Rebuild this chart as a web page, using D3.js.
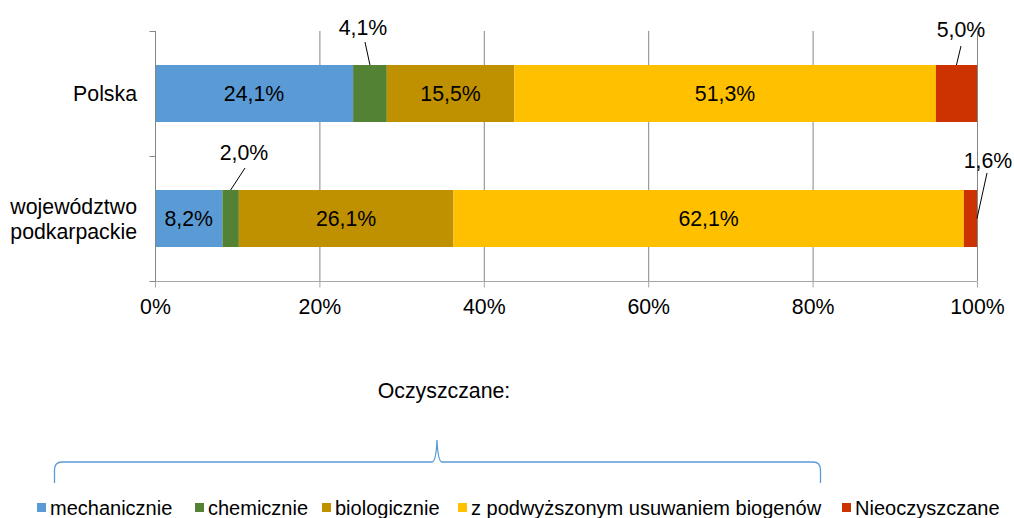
<!DOCTYPE html>
<meta charset="utf-8">
<style>
  body { margin: 0; background: #fff; }
  text { font-family: "Liberation Sans", Arial, sans-serif; fill: #000; }
  .grid line { stroke: #868686; stroke-width: 1; }
</style>
<body>
<script src="https://d3js.org/d3.v7.min.js"></script>
<script>

// data
var categories = ["Polska", "województwo podkarpackie"];
var seriesNames = ["mechanicznie", "chemicznie", "biologicznie",
                   "z podwyższonym usuwaniem biogenów", "Nieoczyszczane"];
var polskaValues = [24.1, 4.1, 15.5, 51.3, 5.0];
var podkarpackieValues = [8.2, 2.0, 26.1, 62.1, 1.6];
var xTicks = [0, 20, 40, 60, 80, 100];
var colors = ["#5B9BD5", "#548235", "#BF9000", "#FFC000", "#CC3300"];
var bracketLabel = "Oczyszczane:";

var W = 1014, H = 518;
var FS = "21.3px";
var svg = d3.select("body").append("svg")
    .attr("width", W)
    .attr("height", H);

var x = d3.scaleLinear().domain([0, 100]).range([155, 977]);
var y = d3.scaleBand().domain(categories).range([31, 281])
    .paddingInner(0.544).paddingOuter(0.272);

// stacked rows
var rows = [polskaValues, podkarpackieValues].map(function(vals, i) {
  var acc = 0;
  return vals.map(function(v, j) {
    var seg = {cat: categories[i], v: v, x0: acc, x1: acc + v, s: j};
    acc += v;
    return seg;
  });
});

// vertical gridlines
svg.append("g").attr("class", "grid")
  .selectAll("line")
  .data(xTicks.slice(1))
  .enter().append("line")
    .attr("x1", function(d) { return x(d) + 0.5; })
    .attr("x2", function(d) { return x(d) + 0.5; })
    .attr("y1", 31)
    .attr("y2", 281);

// bars
rows.forEach(function(row) {
  svg.append("g").selectAll("rect")
    .data(row)
    .enter().append("rect")
      .attr("x", function(d) { return x(d.x0); })
      .attr("width", function(d) { return x(d.x1) - x(d.x0); })
      .attr("y", function(d) { return y(d.cat); })
      .attr("height", y.bandwidth())
      .attr("fill", function(d) { return colors[d.s]; });
});

// axes
var xAxis = svg.append("g")
    .attr("transform", "translate(0,281.5)")
    .call(d3.axisBottom(x).tickValues(xTicks).tickSize(6).tickPadding(11)
      .tickFormat(function(d) { return d + "%"; }));
xAxis.select(".domain").attr("stroke", "#a6a6a6").attr("d", "M155,0H977");
xAxis.selectAll(".tick line").attr("stroke", "#a6a6a6");
xAxis.selectAll(".tick text").style("font-size", FS)
    .style("font-family", "'Liberation Sans', Arial, sans-serif").attr("fill", "#000");

var yAxis = svg.append("g").attr("transform", "translate(155.5,0)");
yAxis.append("line").attr("y1", 31).attr("y2", 281).attr("stroke", "#868686");
yAxis.selectAll("line.t")
  .data([31, 156, 281])
  .enter().append("line")
    .attr("class", "t")
    .attr("x1", -6).attr("x2", 0)
    .attr("y1", function(d) { return d + 0.5; })
    .attr("y2", function(d) { return d + 0.5; })
    .attr("stroke", "#868686");

// category labels
svg.append("text")
    .attr("x", 137).attr("y", y("Polska") + y.bandwidth() / 2 + 7)
    .attr("text-anchor", "end").style("font-size", FS)
    .text("Polska");
var lbl = svg.append("text")
    .attr("text-anchor", "end").style("font-size", FS);
var cy2 = y(categories[1]) + y.bandwidth() / 2;
lbl.append("tspan").attr("x", 137).attr("y", cy2 - 5).text("województwo");
lbl.append("tspan").attr("x", 137).attr("y", cy2 + 20).text("podkarpackie");

function fmt(v) { return v.toFixed(1).replace(".", ",") + "%"; }

// data labels inside bars
rows.forEach(function(row) {
  svg.append("g").selectAll("text")
    .data(row.filter(function(d) { return d.v > 6; }))
    .enter().append("text")
      .attr("x", function(d) { return x((d.x0 + d.x1) / 2); })
      .attr("y", function(d) { return y(d.cat) + y.bandwidth() / 2 + 7; })
      .attr("text-anchor", "middle")
      .style("font-size", FS)
      .text(function(d) { return fmt(d.v); });
});

// callout labels for small segments
var callouts = [
  {seg: rows[0][1], tx: 363, ty: 35, lx1: 365, ly1: 42, endX: null, endY: 0},
  {seg: rows[0][4], tx: 961, ty: 37, lx1: 961, ly1: 46, endX: null, endY: 0},
  {seg: rows[1][1], tx: 244, ty: 160, lx1: 245, ly1: 168, endX: null, endY: 0},
  {seg: rows[1][4], tx: 988, ty: 168, lx1: 987, ly1: 173, endX: 100, endY: 0.5}
];
callouts.forEach(function(c) {
  var d = c.seg;
  var ex = c.endX === null ? x((d.x0 + d.x1) / 2) : x(c.endX);
  var ey = y(d.cat) + y.bandwidth() * c.endY;
  svg.append("line")
    .attr("x1", c.lx1).attr("y1", c.ly1)
    .attr("x2", ex).attr("y2", ey)
    .attr("stroke", "#000").attr("stroke-width", 1);
  svg.append("text")
    .attr("x", c.tx).attr("y", c.ty)
    .attr("text-anchor", "middle")
    .style("font-size", FS)
    .text(fmt(d.v));
});

// bracket
svg.append("text")
    .attr("x", 444).attr("y", 398)
    .attr("text-anchor", "middle").style("font-size", FS)
    .text(bracketLabel);
svg.append("path")
    .attr("d", "M54.5,483 V470 Q54.5,462 62,462 H432 Q436,462 437,440 Q438,462 442,462 H813 Q820.5,462 820.5,470 V483")
    .attr("fill", "none").attr("stroke", "#5B9BD5").attr("stroke-width", 1.3);

// legend
var legendX = [37, 195, 322, 458, 842];
var legend = svg.append("g").selectAll("g")
  .data(seriesNames)
  .enter().append("g")
    .attr("transform", function(d, i) { return "translate(" + legendX[i] + ",503)"; });
legend.append("rect")
    .attr("width", 9).attr("height", 9)
    .attr("fill", function(d, i) { return colors[i]; });
legend.append("text")
    .attr("x", 13).attr("y", 12)
    .style("font-size", "20px")
    .text(function(d) { return d; });

</script>
</body>
